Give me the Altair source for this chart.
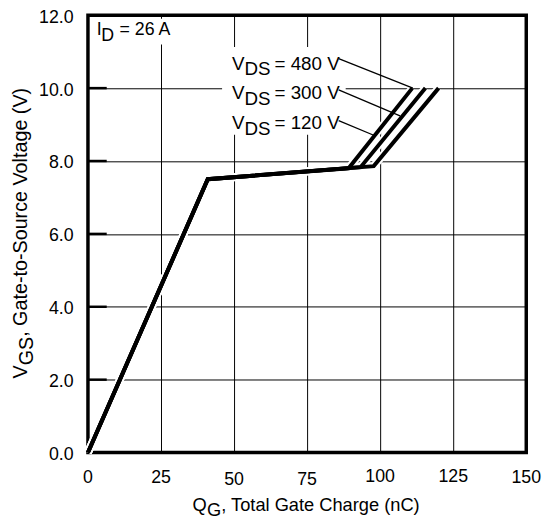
import altair as alt
import pandas as pd

# ---- data ----
q_120 = [0, 41, 89.2, 111.0]
v_120 = [0, 7.5, 7.80, 10.0]
q_300 = [0, 41, 93.3, 115.5]
v_300 = [0, 7.5, 7.83, 10.0]
q_480 = [0, 41, 97.8, 120.0]
v_480 = [0, 7.5, 7.86, 10.0]

x_ticks = [0, 25, 50, 75, 100, 125, 150]
x_tick_labels = ["0", "25", "50", "75", "100", "125", "150"]
y_ticks = [0, 2, 4, 6, 8, 10, 12]

# leader lines for the V_DS labels (start -> end, data units)
leader_q0 = [85.8, 85.8, 85.8]
leader_v0 = [10.81, 9.95, 9.11]
leader_q1 = [111.2, 106.8, 98.0]
leader_v1 = [10.0, 9.24, 8.70]

# white label backgrounds (data units)
box_q0 = [1.0, 45.9]
box_q1 = [28.0, 88.2]
box_v0 = [11.2, 8.72]
box_v1 = [11.9, 11.13]

FONT = "Liberation Sans"
FS = 18
W, H = 444, 443

rows = []
for name, qs, vs in [("120 V", q_120, v_120), ("300 V", q_300, v_300), ("480 V", q_480, v_480)]:
    for i, (q, v) in enumerate(zip(qs, vs)):
        rows.append({"series": name, "idx": i, "q": q, "v": v})
curves = pd.DataFrame(rows)

xs = alt.Scale(domain=[0, 150], nice=False, zero=False)
ys = alt.Scale(domain=[0, 12], nice=False, zero=False)

x_axis = alt.Axis(values=x_ticks, labels=False, ticks=False, domain=False, grid=True,
                  gridColor="black", gridWidth=1, gridOpacity=1, title=None)
y_axis = alt.Axis(values=y_ticks, format=".1f", labelFontSize=FS, labelFont=FONT,
                  labelColor="black", labelPadding=15, labelOffset=2, ticks=False, domain=False,
                  grid=True, gridColor="black", gridWidth=1, gridOpacity=1, title=None)

casing = alt.Chart(curves).mark_line(color="white", strokeWidth=8, strokeJoin="miter").encode(
    x=alt.X("q:Q", scale=xs, axis=x_axis),
    y=alt.Y("v:Q", scale=ys, axis=y_axis),
    detail="series:N",
    order="idx:Q",
)

stubs = alt.Chart(pd.DataFrame({"v": y_ticks[1:-1]})).mark_rule(color="black", strokeWidth=2.5).encode(
    x=alt.value(0), x2=alt.value(19), y=alt.Y("v:Q", scale=ys)
)

boxes = alt.Chart(pd.DataFrame({"q0": box_q0, "q1": box_q1, "v0": box_v0, "v1": box_v1})).mark_rect(
    color="white", strokeWidth=0
).encode(x=alt.X("q0:Q", scale=xs), x2="q1:Q", y=alt.Y("v0:Q", scale=ys), y2="v1:Q")

leaders = alt.Chart(pd.DataFrame({"q0": leader_q0, "q1": leader_q1, "v0": leader_v0, "v1": leader_v1})).mark_rule(
    color="black", strokeWidth=1.3
).encode(x=alt.X("q0:Q", scale=xs), x2="q1:Q", y=alt.Y("v0:Q", scale=ys), y2="v1:Q")

lines = alt.Chart(curves).mark_line(color="black", strokeWidth=4, strokeJoin="miter", strokeCap="butt").encode(
    x=alt.X("q:Q", scale=xs),
    y=alt.Y("v:Q", scale=ys),
    detail="series:N",
    order="idx:Q",
)

xlab = alt.Chart(pd.DataFrame({"q": x_ticks, "t": x_tick_labels,
                               "dy": [0, 0, 1.5, 1.5, -1, -1, 0]})).mark_text(
    font=FONT, fontSize=FS, color="black", baseline="middle", align="center"
).encode(x=alt.X("q:Q", scale=xs), y=alt.value(469), yOffset=alt.YOffset("dy:Q", scale=None), text="t:N")

OX, OY = 89, 12  # page position of plot origin


def piece(text, px, py, angle=0, size=FS):
    return alt.Chart(pd.DataFrame({"t": [text]})).mark_text(
        font=FONT, fontSize=size, color="black", align="left", baseline="alphabetic", angle=angle
    ).encode(x=alt.value(px - OX), y=alt.value(py - OY), text="t:N")


texts = []
# I_D = 26 A
texts += [piece("I", 98, 32), piece("D", 102.5, 38), piece("= 26 A", 121, 32)]
# V_DS labels
for lab, base in [("480", 67), ("300", 97), ("120", 127)]:
    texts += [piece("V", 235, base, size=19), piece("DS", 247.5, base + 6, size=19),
              piece(f"= {lab} V", 278, base, size=19)]
# x title
texts += [piece("Q", 195, 514, size=18.5), piece("G", 209.5, 519, size=18.5),
          piece(", Total Gate Charge (nC)", 224, 514, size=18.5)]
# y title (rotated)
texts += [piece("V", 27, 380, 270, 20), piece("GS", 33, 366.7, 270, 20),
          piece(", Gate-to-Source Voltage (V)", 27, 337.8, 270, 20)]

chart = alt.layer(casing, stubs, boxes, leaders, lines, xlab, *texts).properties(
    width=W, height=H,
    background="white",
    autosize=alt.AutoSizeParams(type="none"),
    padding={"left": 81, "top": 4, "right": 20, "bottom": 64},
).configure_view(stroke="black", strokeWidth=3.5)

chart.save("out.html", embed_options={"renderer": "svg", "actions": False})
